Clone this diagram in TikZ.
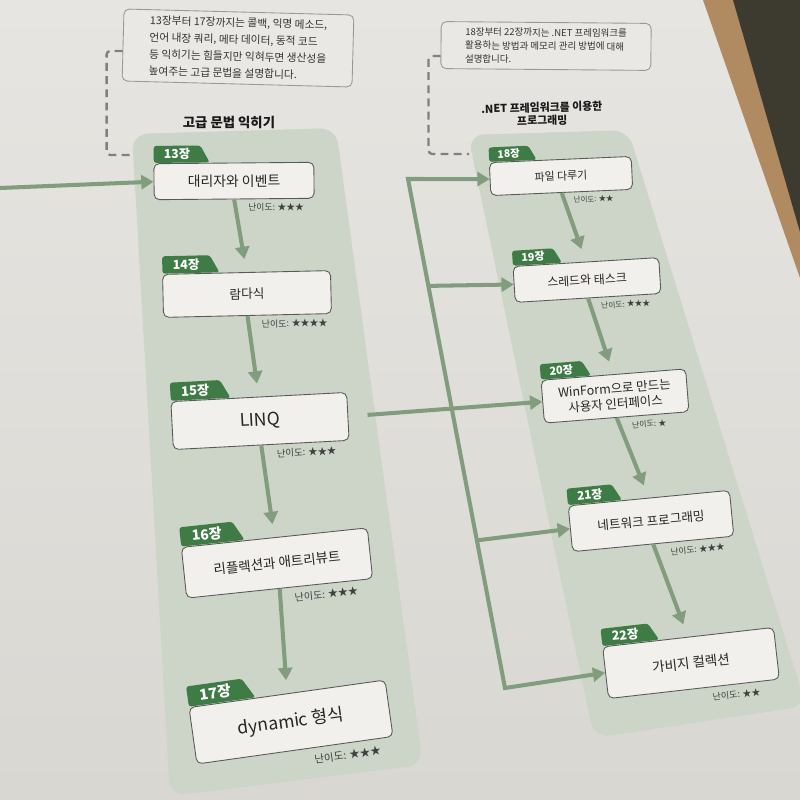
\documentclass[tikz,border=0pt]{standalone}
\usepackage{fontspec}
\setmainfont{Noto Sans CJK KR}
\usepackage{tikz}
\usetikzlibrary{shapes.geometric, arrows.meta, calc}
\definecolor{pagetop}{HTML}{E7E5E1}
\definecolor{pagebot}{HTML}{D9D7D2}
\definecolor{panelgr}{HTML}{CCD5C7}
\definecolor{tabgr}{HTML}{3E7B45}
\definecolor{arrgr}{HTML}{819D7E}
\definecolor{boxfill}{HTML}{F1F0EC}
\definecolor{memofill}{HTML}{EAE8E4}
\definecolor{wood}{HTML}{B08A60}
\definecolor{tabledark}{HTML}{3D3A2F}
\tikzset{
  chap/.style n args={3}{
    rectangle, rounded corners=3pt,
    draw=black!65, line width=0.5pt, fill=boxfill,
    text=black!85, align=center, inner sep=2pt,
    minimum width=#1, minimum height=#2,
    font=\fontsize{#3}{#3}\selectfont
  },
  tab/.style={
    trapezium, trapezium left angle=90, trapezium right angle=62,
    trapezium stretches=true, rounded corners=1.5pt,
    fill=tabgr, text=white, inner xsep=4pt, inner ysep=1pt,
    minimum width=1.12cm, minimum height=0.34cm,
    font=\fontsize{7}{7}\selectfont\bfseries
  },
  diff/.style={inner sep=1pt, text=black!75, font=\fontsize{5}{5}\selectfont},
  memo/.style={rectangle, rounded corners=3pt, draw=black!40, line width=0.5pt,
               fill=memofill, align=left, text=black!80},
  ttl/.style={align=center, text=black!90},
  arr/.style={-{Triangle[length=7pt,width=8pt]}, line width=2.3pt, draw=arrgr},
  arrs/.style={{Triangle[length=7pt,width=8pt]}-{Triangle[length=7pt,width=8pt]},
               line width=2.3pt, draw=arrgr},
  lead/.style={draw=black!50, line width=1.3pt, dash pattern=on 4.5pt off 3pt,
               rounded corners=2pt},
}
\begin{document}
\begin{tikzpicture}[x=0.02cm, y=-0.02cm]
  \useasboundingbox (0,0) rectangle (800,800);
  \clip (0,0) rectangle (800,800);

  % ── page and table corner ──────────────────────────────────────────────────
  \shade[top color=pagetop, bottom color=pagebot] (0,0) rectangle (800,800);
  \fill[wood] (703,0) -- (800,0) -- (800,278) -- cycle;
  \fill[tabledark] (733,0) -- (800,0) -- (800,232) -- cycle;

  % ── column panels ──────────────────────────────────────────────────────────
  \fill[panelgr, rounded corners=9pt] (132,134) -- (336,128) -- (423,765) -- (170,796) -- cycle;
  \fill[panelgr, rounded corners=9pt] (468,135) -- (628,130) -- (806,706) -- (594,738) -- cycle;
  \coordinate (pL) at (134,155);
  \coordinate (pR) at (469,154);

  % ── notes and titles ───────────────────────────────────────────────────────
  \node[memo, rotate=-1.5, minimum width=4.6cm, minimum height=1.4cm,
        font=\fontsize{6.1}{9.6}\selectfont] (memoL) at (238,48)
        {13장부터 17장까지는 콜백, 익명 메소드,\\언어 내장 쿼리, 메타 데이터, 동적 코드\\등 익히기는 힘들지만 익혀두면 생산성을\\높여주는 고급 문법을 설명합니다.};
  \node[memo, rotate=-0.5, minimum width=4.2cm, minimum height=0.92cm,
        font=\fontsize{5.4}{7.6}\selectfont] (memoR) at (546,46)
        {18장부터 22장까지는 .NET 프레임워크를\\활용하는 방법과 메모리 관리 방법에 대해\\설명합니다.};
  \node[ttl, font=\fontsize{7.6}{9}\selectfont\bfseries] (ttlL) at (229,123) {고급 문법 익히기};
  \node[ttl, rotate=1.5, font=\fontsize{6.2}{7.4}\selectfont\bfseries] (ttlR) at (542,114)
        {.NET 프레임워크를 이용한\\프로그래밍};

  % ── left column: chapters 13-17 ────────────────────────────────────────────
  \node[chap={3.2cm}{0.72cm}{7.9}, rotate=0.5]   (b13) at (234,181) {대리자와 이벤트};
  \node[chap={3.36cm}{0.86cm}{7.2}, rotate=1.3]  (b14) at (247,294) {람다식};
  \node[chap={3.52cm}{0.96cm}{10}, rotate=3]     (b15) at (260,421) {LINQ};
  \node[chap={3.74cm}{1.02cm}{7.7}, rotate=6]    (b16) at (277,563) {리플렉션과 애트리뷰트};
  \node[chap={3.96cm}{1.14cm}{10}, rotate=8]     (b17) at (291,722) {dynamic 형식};

  \node[tab, rotate=0.5, anchor=bottom left corner]             (t13) at (b13.north west) {13장};
  \node[tab, rotate=1.3, scale=1.02, anchor=bottom left corner] (t14) at (b14.north west) {14장};
  \node[tab, rotate=3, scale=1.07, anchor=bottom left corner]   (t15) at (b15.north west) {15장};
  \node[tab, rotate=6, scale=1.14, anchor=bottom left corner]   (t16) at (b16.north west) {16장};
  \node[tab, rotate=8, scale=1.2, anchor=bottom left corner]    (t17) at (b17.north west) {17장};

  \node[diff, rotate=0.5, anchor=north west]             (d13) at ($(b13.south)+(12,2)$) {난이도: ★★★};
  \node[diff, rotate=1.3, scale=1.02, anchor=north west] (d14) at ($(b14.south)+(12,2)$) {난이도: ★★★★};
  \node[diff, rotate=3, scale=1.07, anchor=north west]   (d15) at ($(b15.south)+(13,2)$) {난이도: ★★★};
  \node[diff, rotate=6, scale=1.14, anchor=north west]   (d16) at ($(b16.south)+(12,2)$) {난이도: ★★★};
  \node[diff, rotate=8, scale=1.2, anchor=north west]    (d17) at ($(b17.south)+(16,2)$) {난이도: ★★★};

  % ── right column: chapters 18-22 ───────────────────────────────────────────
  \node[chap={2.84cm}{0.66cm}{6.2}, rotate=2.5]  (b18) at (561,176) {파일 다루기};
  \node[chap={2.92cm}{0.72cm}{6.8}, rotate=3.5]  (b19) at (587,280) {스레드와 태스크};
  \node[chap={2.9cm}{0.86cm}{7.1}, rotate=4.5,
        font=\fontsize{7.1}{8.8}\selectfont]   (b20) at (615,396) {WinForm으로 만드는\\사용자 인터페이스};
  \node[chap={3.24cm}{0.92cm}{7.2}, rotate=5.5]  (b21) at (651,521) {네트워크 프로그래밍};
  \node[chap={3.44cm}{1.04cm}{7.7}, rotate=6.5]  (b22) at (691,663) {가비지 컬렉션};

  \node[tab, rotate=2.5, scale=0.85, anchor=bottom left corner] (t18) at (b18.north west) {18장};
  \node[tab, rotate=3.5, scale=0.88, anchor=bottom left corner] (t19) at (b19.north west) {19장};
  \node[tab, rotate=4.5, scale=0.9, anchor=bottom left corner]  (t20) at (b20.north west) {20장};
  \node[tab, rotate=5.5, scale=0.97, anchor=bottom left corner] (t21) at (b21.north west) {21장};
  \node[tab, rotate=6.5, scale=1.02, anchor=bottom left corner] (t22) at (b22.north west) {22장};

  \node[diff, rotate=2.5, scale=0.85, anchor=north west] (d18) at ($(b18.south)+(10,2)$) {난이도: ★★};
  \node[diff, rotate=3.5, scale=0.88, anchor=north west] (d19) at ($(b19.south)+(11,2)$) {난이도: ★★★};
  \node[diff, rotate=4.5, scale=0.9, anchor=north west]  (d20) at ($(b20.south)+(13,2)$) {난이도: ★};
  \node[diff, rotate=5.5, scale=0.97, anchor=north west] (d21) at ($(b21.south)+(15,2)$) {난이도: ★★★};
  \node[diff, rotate=6.5, scale=1.02, anchor=north west] (d22) at ($(b22.south)+(16,2)$) {난이도: ★★};

  % ── dashed leads from the notes ────────────────────────────────────────────
  \draw[lead] ([yshift=-0.12cm]memoL.west) -- ++(-16,0) |- (pL);
  \draw[lead] ([yshift=-0.22cm]memoR.west) -- ++(-12,0) |- (pR);

  % ── arrows down the columns ────────────────────────────────────────────────
  \draw[arr, shorten >=7.5pt] (b13.south) -- (b14.north);
  \draw[arr, shorten >=7.5pt] (b14.south) -- (b15.north);
  \draw[arr, shorten >=7.5pt] (b15.south) -- (b16.north);
  \draw[arr, shorten >=7.5pt] (b16.south) -- (b17.north);
  \draw[arr, shorten >=7.5pt] (b18.south) -- (b19.north);
  \draw[arr, shorten >=7.5pt] (b19.south) -- (b20.north);
  \draw[arr, shorten >=7.5pt] (b20.south) -- (b21.north);
  \draw[arr, shorten >=7.5pt] (b21.south) -- (b22.north);

  % ── incoming arrow, LINQ → right column ─────────────────────────────────────
  \coordinate (in13) at (0,188);
  \draw[arr] (in13) -- (b13.west);
  \draw[arr, shorten <=11pt] (b15.east) -- (b20.west);
  \coordinate (tTop) at (408,179);
  \coordinate (tBot) at (505,688);
  \draw[arrs] (b18.west) -- (tTop) -- (tBot) -- (b22.west);
  \draw[arr] ($(tTop)!0.21!(tBot)$) -- (b19.west);
  \draw[arr] ($(tTop)!0.71!(tBot)$) -- (b21.west);

\end{tikzpicture}
\end{document}
